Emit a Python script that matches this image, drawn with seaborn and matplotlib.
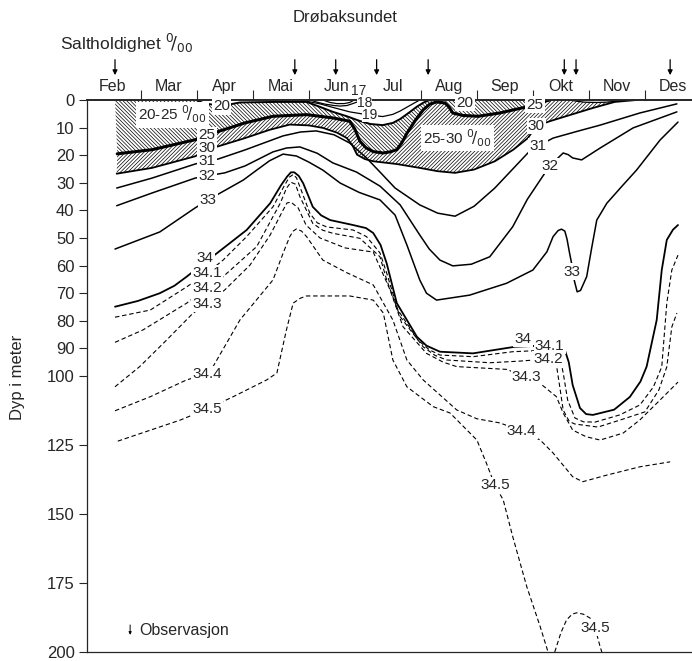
import matplotlib
matplotlib.use('Agg')
import matplotlib.pyplot as plt
import seaborn as sns

# x = months after 1 Feb (Feb = 0..1, Mar = 1..2, ...), y = depth in metres
months = ['Feb', 'Mar', 'Apr', 'Mai', 'Jun', 'Jul', 'Aug', 'Sep', 'Okt', 'Nov', 'Des']
obs_dates = [0.54, 3.75, 4.48, 5.21, 6.13, 8.56, 8.77, 10.45]
depth_ticks = [0, 10, 20, 30, 40, 50, 60, 70, 80, 90, 100, 125, 150, 175, 200]

# isohalines (salinity, per mille)
s17_x = [4.25, 4.38, 4.50, 4.63, 4.73, 4.81]
s17_d = [0, 0.9, 1.3, 1.3, 0.9, 0]
s18_x = [4.02, 4.15, 4.29, 4.45, 4.56, 4.68, 4.77, 4.88]
s18_d = [0, 0.8, 1.5, 2.0, 2.2, 2.0, 1.4, 0.6]
s19_x = [3.84, 4.00, 4.20, 4.45, 4.73, 5.06, 5.32, 5.50, 5.63, 5.82, 5.98]
s19_d = [0, 0.6, 1.4, 2.8, 4.3, 5.4, 6.0, 5.2, 4.0, 1.8, 0]
s20_x = [1.99, 2.11, 2.43, 2.77, 3.40, 3.96, 4.20, 4.43, 4.68, 4.91, 5.10, 5.32, 5.50,
         5.63, 5.80, 5.93, 6.05, 6.16]
s20_d = [0, 1.1, 2.2, 0.9, 0.7, 0.7, 2.5, 4.3, 5.9, 7.6, 8.7, 9.1, 8.3, 6.9, 4.4, 2.4,
         0.9, 0]
s25_x = [0.58, 1.20, 1.97, 2.40, 2.86, 3.36, 3.96, 4.43, 4.73, 4.82, 4.91, 5.02, 5.15,
         5.32, 5.45, 5.57, 5.66, 5.75, 5.90, 6.04, 6.16, 6.28, 6.43, 6.50, 6.57, 6.75,
         7.02, 7.41, 7.80, 8.04, 8.22, 8.30]
s25_d = [19.5, 18.0, 14.4, 11.3, 8.3, 5.9, 5.3, 6.5, 7.7, 10.5, 14.9, 17.3, 18.7,
         19.2, 18.8, 18.0, 15.5, 12.1, 7.4, 3.6, 1.5, 0.7, 1.1, 2.5, 4.7, 5.6,
         5.9, 4.7, 2.9, 1.8, 0.4, 0]
s25_lens_x = [8.66, 8.80, 8.93, 9.14, 9.30, 9.41, 9.55, 9.68]
s25_lens_d = [0, 0.5, 0.8, 0.9, 0.8, 0.6, 0.3, 0]
s30_x = [0.57, 1.20, 1.97, 2.18, 2.38, 2.86, 3.30, 3.66, 4.00, 4.25, 4.50, 4.68, 4.78,
         4.86, 5.00, 5.15, 5.57, 5.98, 6.30, 6.61, 6.95, 7.32, 7.65, 7.91, 8.06, 8.30,
         8.70, 9.07, 9.46, 9.85]
s30_d = [26.7, 24.6, 20.4, 18.1, 16.8, 13.8, 10.8, 8.9, 9.2, 10.1, 11.8, 13.8, 16.5,
         19.8, 21.4, 22.2, 23.2, 24.6, 25.8, 26.4, 25.2, 22.2, 18.0, 13.8, 9.4, 7.7,
         5.2, 2.9, 0.7, 0]
s31_x = [0.57, 1.20, 1.97, 2.18, 2.38, 2.86, 3.54, 3.85, 4.13, 4.45, 4.73, 5.03, 5.27,
         5.54, 5.98, 6.30, 6.61, 6.95, 7.32, 7.65, 7.91, 8.09, 8.36, 8.80, 9.20, 9.91,
         10.57]
s31_d = [31.9, 28.3, 23.2, 22.1, 21.4, 18.1, 13.0, 11.6, 11.2, 12.6, 15.6, 21.0, 26.1,
         31.9, 38.0, 41.0, 42.1, 38.5, 31.9, 24.8, 19.2, 16.7, 13.8, 11.3, 9.1, 4.7,
         1.4]
s32_x = [0.57, 1.20, 1.97, 2.18, 2.50, 2.86, 3.36, 3.60, 3.84, 4.15, 4.43, 4.85, 5.27,
         5.63, 5.98, 6.15, 6.34, 6.57, 6.90, 7.23, 7.64, 7.90, 8.13, 8.30, 8.54, 8.63,
         8.71, 8.87, 9.20, 9.79, 10.57]
s32_d = [38.3, 33.7, 28.3, 27.5, 26.4, 23.9, 18.8, 17.4, 17.0, 19.3, 22.8, 26.1, 31.2,
         38.0, 48.9, 54.0, 58.0, 60.1, 59.5, 56.8, 45.9, 36.0, 29.0, 23.9, 19.2, 19.8,
         21.0, 21.7, 17.4, 10.1, 4.3]
s33_x = [0.54, 1.34, 1.97, 2.20, 2.41, 2.83, 3.07, 3.30, 3.54, 3.78, 4.00, 4.25, 4.56,
         4.90, 5.27, 5.54, 5.75, 5.98, 6.10, 6.28, 6.87, 7.53, 8.00, 8.25, 8.36, 8.45,
         8.51, 8.57, 8.61, 8.65, 8.69, 8.74, 8.79, 8.85, 8.96, 9.05, 9.14, 9.32, 9.60,
         9.85, 10.27, 10.59]
s33_d = [54.0, 47.8, 39.1, 36.2, 33.8, 29.0, 25.4, 22.0, 19.6, 20.3, 22.5, 25.4, 30.1,
         33.5, 36.2, 41.7, 52.5, 65.2, 70.0, 72.5, 70.7, 66.4, 61.6, 55.0, 49.5, 47.3,
         46.8, 47.5, 50.5, 55.0, 59.1, 65.5, 69.5, 69.0, 64.0, 53.5, 43.5, 37.4, 31.0,
         25.4, 14.5, 8.0]
s34_x = [0.54, 0.95, 1.34, 1.60, 1.82, 2.15, 2.36, 2.89, 3.31, 3.50, 3.61, 3.68, 3.74,
         3.82, 3.90, 4.07, 4.22, 4.38, 4.79, 5.02, 5.15, 5.28, 5.39, 5.57, 5.93, 6.10,
         6.34, 6.93, 7.68, 8.04, 8.45, 8.57, 8.64, 8.71, 8.84, 8.95, 9.07, 9.45, 9.73,
         9.92, 10.03, 10.21, 10.30, 10.39, 10.50, 10.59]
s34_d = [74.9, 72.8, 70.0, 67.3, 64.0, 58.7, 55.5, 47.1, 37.4, 31.0, 27.8, 26.2, 26.2,
         27.5, 30.2, 38.7, 41.8, 43.5, 45.3, 46.4, 48.2, 52.5, 59.2, 73.6, 85.8, 89.0,
         91.2, 91.8, 89.4, 89.1, 89.5, 90.6, 95.0, 103.3, 111.6, 113.8, 114.1, 112.2, 107.6,
         102.0, 96.6, 79.7, 61.6, 50.7, 47.0, 45.3]
s341_x = [0.54, 1.17, 1.82, 2.18, 2.47, 2.89, 3.36, 3.55, 3.65, 3.72, 3.78, 3.84, 4.02,
          4.15, 4.32, 4.79, 5.03, 5.27, 5.39, 5.59, 5.95, 6.15, 6.34, 6.93, 7.64, 8.30,
          8.48, 8.55, 8.62, 8.75, 8.90, 9.11, 9.55, 9.91, 10.15, 10.30, 10.39, 10.48, 10.59]
s341_d = [78.7, 76.1, 67.7, 62.7, 58.0, 49.5, 38.7, 31.5, 28.0, 27.0, 28.2, 31.4, 41.1,
          44.5, 46.0, 47.1, 49.5, 55.4, 62.7, 76.1, 87.0, 90.5, 92.4, 93.0, 91.2, 90.6,
          92.4, 100.0, 108.7, 115.2, 116.6, 116.7, 114.1, 110.5, 104.0, 96.7, 73.6, 61.6, 56.2]
s342_x = [0.54, 1.04, 1.82, 2.18, 2.47, 3.07, 3.49, 3.60, 3.68, 3.76, 3.84, 4.07, 4.25,
          4.43, 4.91, 5.27, 5.39, 5.63, 6.04, 6.25, 6.46, 7.23, 7.77, 8.27, 8.42, 8.48,
          8.54, 8.65, 8.75, 9.16, 9.55, 10.0, 10.25, 10.39, 10.48, 10.57]
s342_d = [87.8, 83.3, 73.6, 68.1, 64.0, 53.1, 37.4, 32.0, 29.8, 30.5, 35.0, 44.7, 47.2,
          48.3, 50.1, 56.8, 65.2, 78.5, 89.4, 92.5, 94.2, 95.2, 94.6, 93.8, 96.0, 104.0,
          112.3, 116.5, 117.4, 118.5, 116.0, 113.0, 105.0, 96.7, 82.2, 77.2]
s343_x = [0.54, 0.98, 1.46, 1.93, 2.18, 2.50, 2.95, 3.31, 3.54, 3.61, 3.68, 3.81, 3.95,
          4.20, 4.65, 5.15, 5.45, 5.68, 6.10, 6.40, 6.64, 7.53, 7.89, 8.13, 8.42, 8.54,
          8.71, 8.95, 9.20, 9.61, 9.91, 10.27, 10.59]
s343_d = [103.9, 96.6, 87.0, 77.3, 73.9, 68.8, 59.8, 48.9, 39.9, 37.3, 37.0, 39.1, 45.3,
          50.0, 53.6, 55.1, 68.8, 82.1, 91.8, 95.0, 96.6, 97.6, 100.4, 102.7, 107.5, 113.4,
          119.6, 122.0, 123.2, 120.7, 115.9, 108.7, 102.2]
s344_x = [0.54, 1.17, 1.82, 2.18, 2.29, 2.77, 3.36, 3.55, 3.66, 3.72, 3.78, 3.87, 3.96,
          4.25, 4.68, 5.15, 5.50, 5.75, 6.04, 6.64, 7.00, 7.41, 7.80, 8.13, 8.36, 8.71,
          8.89, 9.32, 9.91, 10.45]
s344_d = [112.6, 107.5, 101.4, 99.3, 96.6, 79.7, 65.2, 55.0, 49.5, 47.5, 46.7, 47.5, 49.5,
          58.0, 62.6, 67.0, 79.7, 94.2, 101.4, 112.3, 115.5, 117.0, 119.9, 123.2, 127.9, 136.5,
          138.3, 135.9, 132.9, 131.1]
s345_x = [0.59, 1.70, 2.18, 2.65, 3.25, 3.43, 3.60, 3.72, 3.85, 3.96, 4.73, 5.15, 5.33,
          5.50, 5.75, 6.22, 6.52, 7.00, 7.17, 7.32, 7.47, 7.64, 7.89, 8.13, 8.27]
s345_d = [123.6, 116.0, 112.0, 107.5, 101.4, 98.9, 83.3, 73.6, 71.8, 71.0, 71.0, 72.5, 77.2,
          94.2, 103.9, 111.1, 113.4, 123.2, 131.6, 139.5, 144.9, 158.2, 176.3, 190.8, 200]
s345b_x = [8.39, 8.50, 8.60, 8.70, 8.78, 8.90, 9.02, 9.11, 9.20, 9.23]
s345b_d = [200, 193.0, 188.4, 186.3, 185.8, 186.3, 187.7, 191.3, 198.1, 200]

# contour labels: text, x, depth
label_text = ['20', '25', '30', '31', '32', '33', '34', '34.1', '34.2', '34.3', '34.4', '34.5',
              '20', '25', '30', '31', '32', '33',
              '34', '34.1', '34.2', '34.3', '34.4', '34.5', '34.5']
label_x = [2.44, 2.18, 2.18, 2.18, 2.18, 2.20, 2.15, 2.18, 2.18, 2.18, 2.18, 2.18,
           6.79, 8.04, 8.06, 8.09, 8.30, 8.69,
           7.82, 8.30, 8.27, 7.89, 7.80, 7.32, 9.11]
label_d = [2.3, 12.6, 17.4, 22.2, 27.6, 36.2, 57.2, 62.7, 68.1, 73.9, 99.3, 112.0,
           1.1, 1.7, 9.4, 16.7, 23.9, 62.2,
           86.6, 89.1, 93.8, 100.4, 119.9, 139.5, 191.3]
small_text = ['17', '18', '19']
small_x = [4.89, 4.99, 5.09]
small_d = [-3.4, 1.0, 5.4]

SOLID = '-'
DASH = (0, (4, 2.5))
isolines = [
    (s17_x, s17_d, SOLID, 0.9), (s18_x, s18_d, SOLID, 0.9), (s19_x, s19_d, SOLID, 0.9),
    (s20_x, s20_d, SOLID, 1.4), (s25_x, s25_d, SOLID, 2.2), (s25_lens_x, s25_lens_d, SOLID, 0.9),
    (s30_x, s30_d, SOLID, 1.3), (s31_x, s31_d, SOLID, 1.1), (s32_x, s32_d, SOLID, 1.1),
    (s33_x, s33_d, SOLID, 1.1), (s34_x, s34_d, SOLID, 1.3),
    (s341_x, s341_d, DASH, 0.8), (s342_x, s342_d, DASH, 0.8), (s343_x, s343_d, DASH, 0.8),
    (s344_x, s344_d, DASH, 0.8), (s345_x, s345_d, DASH, 0.8), (s345b_x, s345b_d, DASH, 0.8),
]

sns.set_style('ticks')
plt.rcParams['font.family'] = ['Liberation Sans', 'DejaVu Sans']
plt.rcParams['hatch.linewidth'] = 0.5

fig = plt.figure(figsize=(6.92, 6.61), dpi=100)
ax = fig.add_axes([87 / 692, 9 / 661, 605 / 692, 552 / 661])

# hatched surface layers: 20-25 (\\\) and 25-30 (///)
top_x = [0.54] + s20_x + [s25_x[-1]]
top_d = [0] + s20_d + [0]
ax.fill(top_x + s25_x[::-1], top_d + s25_d[::-1], facecolor='none', edgecolor='black',
        hatch='\\' * 9, linewidth=0, zorder=1)
mid_x = s25_x + [s30_x[-1]]
mid_d = s25_d + [0]
ax.fill(mid_x + s30_x[::-1], mid_d + s30_d[::-1], facecolor='none', edgecolor='black',
        hatch='/' * 9, linewidth=0, zorder=1)
ax.fill(s25_lens_x, s25_lens_d, facecolor='white', edgecolor='none', zorder=1.5)

for xs, ds, ls, lw in isolines:
    sns.lineplot(x=xs, y=ds, sort=False, estimator=None, color='black',
                 linestyle=ls, linewidth=lw, ax=ax, zorder=2)

box = dict(boxstyle='square,pad=0.08', facecolor='white', edgecolor='none')
for t, x, d in zip(label_text, label_x, label_d):
    ax.text(x, d, t, ha='center', va='center', fontsize=11, bbox=box, zorder=3)
tight = dict(boxstyle='square,pad=0.0', facecolor='white', edgecolor='none')
for t, x, d in zip(small_text, small_x, small_d):
    ax.text(x, d, t, ha='center', va='center', fontsize=10, bbox=tight, zorder=3,
            clip_on=False)
ax.text(1.56, 5.3, r'20-25 $^{0}\!/_{00}$', ha='center', va='center', fontsize=11,
        bbox=dict(boxstyle='square,pad=0.15', facecolor='white', edgecolor='none'), zorder=3)
ax.text(6.65, 13.8, r'25-30 $^{0}\!/_{00}$', ha='center', va='center', fontsize=11,
        bbox=dict(boxstyle='square,pad=0.15', facecolor='white', edgecolor='none'), zorder=3)

# observation arrows above the month row
for x in obs_dates:
    ax.annotate('', xy=(x, -9.0), xytext=(x, -14.6), annotation_clip=False,
                arrowprops=dict(arrowstyle='-|>', color='black', lw=0.9,
                                mutation_scale=7, shrinkA=0, shrinkB=0))
ax.annotate('', xy=(0.81, 193.8), xytext=(0.81, 190.2),
            arrowprops=dict(arrowstyle='-|>', color='black', lw=0.7,
                            mutation_scale=4, shrinkA=0, shrinkB=0))
ax.text(0.98, 192.3, 'Observasjon', ha='left', va='center', fontsize=11.5)

ax.set_xlim(0.04, 10.84)
ax.set_ylim(200, 0)
ax.set_yticks(depth_ticks)
ax.set_yticklabels([str(v) for v in depth_ticks])
ax.tick_params(axis='y', direction='out', length=6, width=0.8, labelsize=12, pad=3)

ax.xaxis.tick_top()
ax.set_xticks(range(1, 11))
ax.set_xticklabels([])
ax.set_xticks([i + 0.5 for i in range(11)], minor=True)
ax.set_xticklabels(months, minor=True)
ax.tick_params(axis='x', which='major', direction='out', length=7, width=0.8, top=True, bottom=False)
ax.tick_params(axis='x', which='minor', length=0, labelsize=11.5, pad=4, top=True, bottom=False)

ax.spines['right'].set_visible(False)
ax.spines['top'].set_linewidth(1.4)
ax.spines['left'].set_linewidth(0.9)
ax.spines['bottom'].set_linewidth(0.9)
ax.set_xlabel('')
ax.set_ylabel('')

fig.text(345 / 692, 1 - 17 / 661, 'Drøbaksundet', ha='center', va='center', fontsize=12)
fig.text(60 / 692, 1 - 43 / 661, r'Saltholdighet $^{0}\!/_{00}$', ha='left', va='center', fontsize=12.5)
fig.text(18 / 692, 1 - 377 / 661, 'Dyp i meter', rotation=90, ha='center', va='center', fontsize=12)

fig.savefig('out.png', dpi=100)
plt.close(fig)
